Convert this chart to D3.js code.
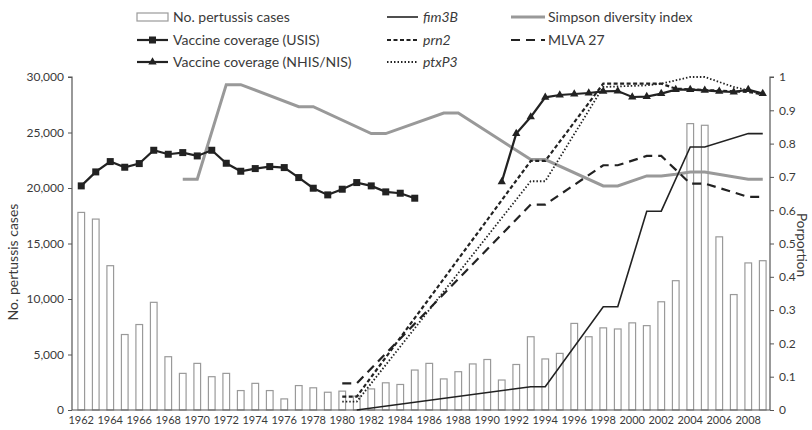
<!DOCTYPE html>
<html>
<head>
<meta charset="utf-8">
<script src="https://cdn.jsdelivr.net/npm/d3@7"></script>
<style>
  body { margin: 0; background: #fff; }
  text { font-family: Lato, "Open Sans", sans-serif; fill: #3a3a3a; }
</style>
</head>
<body>
<div id="plot"></div>
<script>
// data
const years = [1962,1963,1964,1965,1966,1967,1968,1969,1970,1971,1972,1973,1974,1975,1976,1977,1978,1979,1980,1981,1982,1983,1984,1985,1986,1987,1988,1989,1990,1991,1992,1993,1994,1995,1996,1997,1998,1999,2000,2001,2002,2003,2004,2005,2006,2007,2008,2009];
const cases = [17800,17200,13000,6800,7700,9700,4800,3300,4200,3000,3300,1750,2400,1750,1000,2200,2000,1600,1700,1250,1900,2450,2300,3600,4200,2800,3450,4150,4550,2700,4100,6600,4600,5100,7800,6600,7400,7300,7850,7600,9750,11650,25800,25650,15600,10400,13250,13450];

const usisYears = [1962,1963,1964,1965,1966,1967,1968,1969,1970,1971,1972,1973,1974,1975,1976,1977,1978,1979,1980,1981,1982,1983,1984,1985];
const usisValues = [0.673,0.715,0.746,0.729,0.740,0.780,0.768,0.773,0.763,0.780,0.741,0.717,0.725,0.731,0.728,0.698,0.666,0.646,0.663,0.683,0.673,0.655,0.651,0.636];

const nisYears = [1991,1992,1993,1994,1995,1996,1997,1998,1999,2000,2001,2002,2003,2004,2005,2006,2007,2008,2009];
const nisValues = [0.685,0.83,0.88,0.939,0.946,0.949,0.952,0.957,0.958,0.94,0.941,0.95,0.962,0.962,0.96,0.957,0.955,0.962,0.95];

const fimYears = [1981,1993,1994,1998,1999,2001,2002,2004,2005,2008,2009];
const fimValues = [0,0.07,0.07,0.31,0.31,0.597,0.597,0.79,0.79,0.83,0.83];

const prnYears = [1980,1981,1993,1994,1998,2002,2003,2008,2009];
const prnValues = [0.04,0.04,0.748,0.748,0.98,0.98,0.965,0.955,0.948];

const ptxYears = [1980,1981,1993,1994,1998,2001,2002,2004,2005,2007,2009];
const ptxValues = [0.025,0.025,0.687,0.687,0.97,0.975,0.98,1.0,1.0,0.97,0.95];

const mlvaYears = [1980,1981,1993,1994,1998,1999,2001,2002,2004,2005,2008,2009];
const mlvaValues = [0.08,0.08,0.617,0.617,0.735,0.735,0.763,0.763,0.68,0.68,0.64,0.64];

const simpsonYears = [1969,1970,1972,1973,1977,1978,1982,1983,1987,1988,1993,1994,1998,1999,2001,2002,2003,2004,2005,2008,2009];
const simpsonValues = [0.693,0.693,0.977,0.977,0.911,0.911,0.83,0.83,0.892,0.892,0.752,0.752,0.673,0.673,0.703,0.703,0.708,0.715,0.715,0.693,0.693];

const leftTicks = [0,5000,10000,15000,20000,25000,30000];
const rightTicks = [0,0.1,0.2,0.3,0.4,0.5,0.6,0.7,0.8,0.9,1];
const yearLabels = years.filter((d, i) => i % 2 === 0);

const w = 812;
const h = 430;
const margin = {top: 77, right: 42, bottom: 20, left: 72};

const svg = d3.select("div#plot")
    .append("svg")
    .attr("width", w)
    .attr("height", h);

const xScale = d3.scaleBand()
    .domain(years)
    .range([74, w - margin.right])
    .paddingInner(0.54)
    .paddingOuter(0.27);

const yLeft = d3.scaleLinear()
    .domain([0, 30000])
    .range([h - margin.bottom, margin.top]);

const yRight = d3.scaleLinear()
    .domain([0, 1])
    .range([h - margin.bottom, margin.top]);

const cx = d => xScale(d) + xScale.bandwidth() / 2;

// bars
svg.append("g")
    .selectAll("rect")
    .data(cases)
    .enter().append("rect")
    .attr("x", (d, i) => xScale(years[i]))
    .attr("y", d => yLeft(d))
    .attr("width", xScale.bandwidth())
    .attr("height", d => yLeft(0) - yLeft(d))
    .attr("fill", "#fff")
    .attr("stroke", "#9a9a9a")
    .attr("stroke-width", 1.2);

// axes
const leftAxis = d3.axisLeft(yLeft).tickValues(leftTicks).tickFormat(d3.format(",")).tickSize(4).tickPadding(4);
const rightAxis = d3.axisRight(yRight).tickValues(rightTicks)
    .tickFormat(d => (d === 0 || d === 1) ? String(d) : d.toFixed(1)).tickSize(4).tickPadding(5);
const bottomAxis = d3.axisBottom(xScale).tickValues(yearLabels).tickSize(0).tickPadding(6);

function styleAxis(g, size) {
  g.select(".domain").attr("stroke", "#555").attr("stroke-width", 1.2);
  g.selectAll(".tick line").attr("stroke", "#555");
  g.selectAll(".tick text").style("font-size", size).attr("fill", "#3a3a3a")
      .style("font-family", "Lato, sans-serif");
}

svg.append("g")
    .attr("transform", `translate(${margin.left},0)`)
    .call(leftAxis)
    .call(styleAxis, "12px")
    .select(".domain").attr("d", `M-4,${yLeft(30000)}H0V${yLeft(0)}`);

svg.append("g")
    .attr("transform", `translate(${w - margin.right},0)`)
    .call(rightAxis)
    .call(styleAxis, "12px")
    .select(".domain").attr("d", `M4,${yRight(1)}H0V${yRight(0)}`);

svg.append("g")
    .attr("transform", `translate(0,${yLeft(0)})`)
    .call(bottomAxis)
    .call(styleAxis, "11px")
    .select(".domain").attr("d", `M${margin.left},0H${w - margin.right}`);

// axis titles
svg.append("text")
    .attr("transform", `translate(18,262) rotate(-90)`)
    .attr("text-anchor", "middle")
    .style("font-size", "14px")
    .text("No. pertussis cases");

svg.append("text")
    .attr("transform", `translate(797,245) rotate(90)`)
    .attr("text-anchor", "middle")
    .style("font-size", "13.5px")
    .text("Porportion");

// lines
const line = d3.line()
    .x(d => cx(d[0]))
    .y(d => yRight(d[1]));

function pairs(ys, vs) { return ys.map((y, i) => [y, vs[i]]); }

svg.append("path")
    .datum(pairs(simpsonYears, simpsonValues))
    .attr("d", line).attr("fill", "none")
    .attr("stroke", "#999").attr("stroke-width", 3);

svg.append("path")
    .datum(pairs(fimYears, fimValues))
    .attr("d", line).attr("fill", "none")
    .attr("stroke", "#222").attr("stroke-width", 1.6);

svg.append("path")
    .datum(pairs(mlvaYears, mlvaValues))
    .attr("d", line).attr("fill", "none")
    .attr("stroke", "#222").attr("stroke-width", 2.2)
    .attr("stroke-dasharray", "9,6");

svg.append("path")
    .datum(pairs(ptxYears, ptxValues))
    .attr("d", line).attr("fill", "none")
    .attr("stroke", "#222").attr("stroke-width", 1.8)
    .attr("stroke-dasharray", "1.5,2");

svg.append("path")
    .datum(pairs(prnYears, prnValues))
    .attr("d", line).attr("fill", "none")
    .attr("stroke", "#222").attr("stroke-width", 2.2)
    .attr("stroke-dasharray", "4,2.5");

svg.append("path")
    .datum(pairs(usisYears, usisValues))
    .attr("d", line).attr("fill", "none")
    .attr("stroke", "#222").attr("stroke-width", 2.2);

svg.append("g")
    .selectAll("rect")
    .data(pairs(usisYears, usisValues))
    .enter().append("rect")
    .attr("x", d => cx(d[0]) - 3.5)
    .attr("y", d => yRight(d[1]) - 3.5)
    .attr("width", 7).attr("height", 7)
    .attr("fill", "#222");

svg.append("path")
    .datum(pairs(nisYears, nisValues))
    .attr("d", line).attr("fill", "none")
    .attr("stroke", "#222").attr("stroke-width", 2.2);

const tri = d3.symbol().type(d3.symbolTriangle).size(30);
svg.append("g")
    .selectAll("path")
    .data(pairs(nisYears, nisValues))
    .enter().append("path")
    .attr("transform", d => `translate(${cx(d[0])},${yRight(d[1])})`)
    .attr("d", tri)
    .attr("fill", "#222");

// legend
const legend = svg.append("g");
const rows = [17, 40, 62];

function legendText(x, y, t, italic) {
  legend.append("text")
      .attr("x", x).attr("y", y).attr("dy", "0.35em")
      .style("font-size", "14px")
      .style("font-style", italic ? "italic" : "normal")
      .text(t);
}
function legendLine(x1, x2, y, stroke, width, dash) {
  legend.append("line")
      .attr("x1", x1).attr("x2", x2).attr("y1", y).attr("y2", y)
      .attr("stroke", stroke).attr("stroke-width", width)
      .attr("stroke-dasharray", dash || null);
}

legend.append("rect")
    .attr("x", 137).attr("y", rows[0] - 4).attr("width", 31).attr("height", 8)
    .attr("fill", "#fff").attr("stroke", "#9a9a9a").attr("stroke-width", 1.2);
legendText(173, rows[0], "No. pertussis cases");

legendLine(137, 168, rows[1], "#222", 2.2);
legend.append("rect").attr("x", 149).attr("y", rows[1] - 3.5).attr("width", 7).attr("height", 7).attr("fill", "#222");
legendText(173, rows[1], "Vaccine coverage (USIS)");

legendLine(137, 168, rows[2], "#222", 2.2);
legend.append("path").attr("transform", `translate(152.5,${rows[2]})`).attr("d", tri).attr("fill", "#222");
legendText(173, rows[2], "Vaccine coverage (NHIS/NIS)");

legendLine(387, 418, rows[0], "#222", 1.6);
legendText(423, rows[0], "fim3B", true);
legendLine(387, 418, rows[1], "#222", 2.2, "4,2.5");
legendText(423, rows[1], "prn2", true);
legendLine(387, 418, rows[2], "#222", 1.8, "1.5,2");
legendText(423, rows[2], "ptxP3", true);

legendLine(511, 545, rows[0], "#999", 3);
legendText(548, rows[0], "Simpson diversity index");
legendLine(511, 545, rows[1], "#222", 2.2, "9,6");
legendText(548, rows[1], "MLVA 27");
</script>
</body>
</html>
